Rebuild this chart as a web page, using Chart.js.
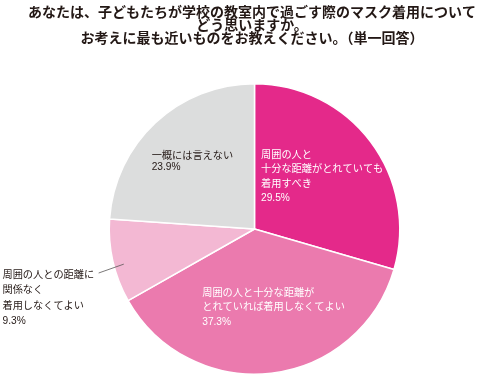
<!DOCTYPE html>
<html><head><meta charset="utf-8">
<script src="https://cdn.jsdelivr.net/npm/chart.js@4.4.1/dist/chart.umd.min.js"></script>
<style>html,body{margin:0;padding:0;background:#fff;}#wrap{width:491px;height:378px;position:relative;}</style>
</head><body><div id="wrap"><canvas id="c"></canvas></div>
<script>
const titleLines = ["あなたは、子どもたちが学校の教室内で過ごす際のマスク着用について","どう思いますか。","お考えに最も近いものをお教えください。（単一回答）"];
const categories = [
  ["周囲の人と","十分な距離がとれていても","着用すべき"],
  ["周囲の人と十分な距離が","とれていれば着用しなくてよい"],
  ["周囲の人との距離に","関係なく","着用しなくてよい"],
  ["一概には言えない"]
];
const values = [29.5, 37.3, 9.3, 23.9];
const colors = ["#E4298A", "#EB7AAE", "#F3B8D3", "#DCDDDD"];
const textColors = ["#ffffff", "#ffffff", "#231815", "#231815"];
// label anchor (fractions of radius relative to pie centre), line spacing
const labelAnchors = [[0.045,-0.51,14.5],[-0.36,0.44,14.5],[-1.735,0.318,15.3],[-0.708,-0.5,11]];
const FONT_FAMILY = '"Liberation Sans","Noto Sans CJK JP",sans-serif';

const titlePlugin = {
  id:'titleText',
  afterDraw(chart){
    const ctx = chart.ctx;
    ctx.save();
    ctx.fillStyle = '#231815';
    ctx.font = 'bold 14px "Noto Sans CJK JP",sans-serif';
    ctx.textAlign = 'center';
    ctx.textBaseline = 'middle';
    titleLines.forEach((t,i)=>ctx.fillText(t, 252, 12 + i*13));
    ctx.restore();
  }
};
const labelPlugin = {
  id:'sliceLabels',
  afterDatasetsDraw(chart){
    const ctx = chart.ctx;
    const meta = chart.getDatasetMeta(0);
    const arc0 = meta.data[0];
    const cx = arc0.x, cy = arc0.y, r = arc0.outerRadius;
    ctx.save();
    ctx.textAlign = 'left';
    ctx.textBaseline = 'middle';
    ctx.font = '10.2px ' + FONT_FAMILY;
    categories.forEach((lines,i)=>{
      const [fx,fy,lh] = labelAnchors[i];
      const x = cx + fx*r, y = cy + fy*r;
      ctx.fillStyle = textColors[i];
      const all = lines.concat([values[i].toFixed(1)+'%']);
      all.forEach((t,j)=>ctx.fillText(t, x, y + j*lh));
    });
    // leader line for small slice
    ctx.strokeStyle = '#595757';
    ctx.lineWidth = 0.8;
    ctx.beginPath();
    ctx.moveTo(cx - 1.073*r, cy + 0.303*r);
    ctx.lineTo(cx - 0.9*r, cy + 0.242*r);
    ctx.stroke();
    ctx.restore();
  }
};

new Chart(document.getElementById('c'), {
  type:'pie',
  data:{
    labels: categories.map(l=>l.join('')),
    datasets:[{data: values, backgroundColor: colors, borderColor:'#ffffff', borderWidth:1.5}]
  },
  options:{
    responsive:true, maintainAspectRatio:false, animation:false,
    layout:{padding:{top:83,bottom:3,left:18,right:0}},
    plugins:{legend:{display:false}, tooltip:{enabled:false}, title:{display:false}}
  },
  plugins:[titlePlugin, labelPlugin]
});
</script></body></html>
